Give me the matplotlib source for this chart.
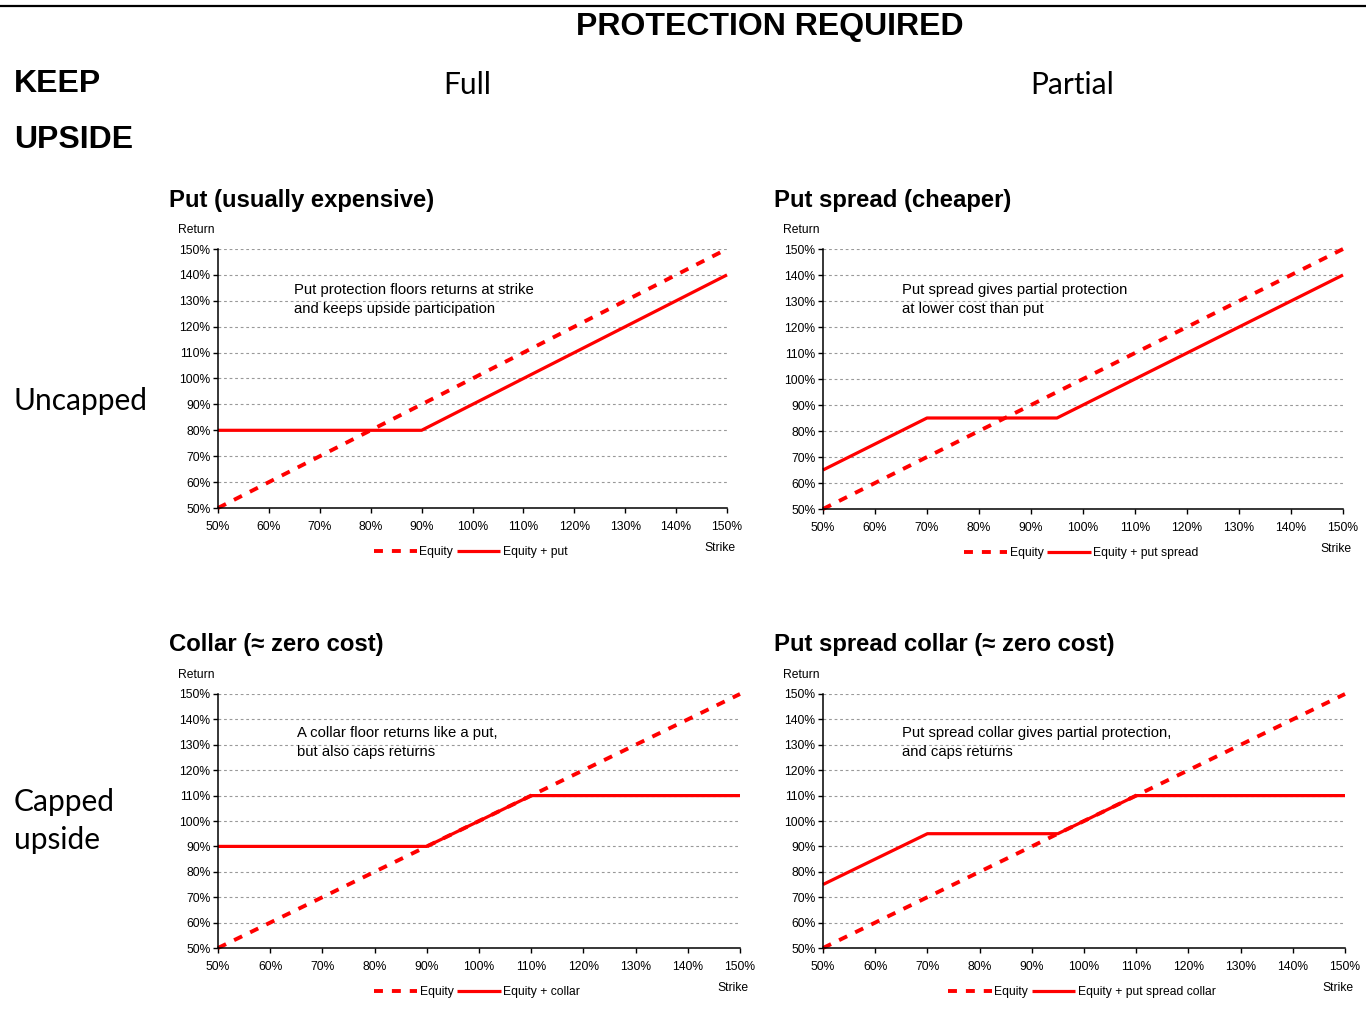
import matplotlib
matplotlib.use("Agg")
import matplotlib.pyplot as plt
from matplotlib.lines import Line2D

W, H = 1366, 1013

# strike levels (%) and the payoff profiles at each kink
equity_x = [50, 150]
equity_y = [50, 150]

put_x = [50, 90, 150]
put_y = [80, 80, 140]

put_spread_x = [50, 70, 95, 150]
put_spread_y = [65, 85, 85, 140]

collar_x = [50, 90, 110, 150]
collar_y = [90, 90, 110, 110]

ps_collar_x = [50, 70, 95, 110, 150]
ps_collar_y = [75, 95, 95, 110, 110]

ticks = [50, 60, 70, 80, 90, 100, 110, 120, 130, 140, 150]
tick_labels = [f"{t}%" for t in ticks]

panels = [
    dict(title="Put (usually expensive)", box=(218, 727, 249, 508),
         x=put_x, y=put_y, label="Equity + put",
         note="Put protection floors returns at strike\nand keeps upside participation",
         note_xy=(294, 283)),
    dict(title="Put spread (cheaper)", box=(823, 1343, 249, 509),
         x=put_spread_x, y=put_spread_y, label="Equity + put spread",
         note="Put spread gives partial protection\nat lower cost than put",
         note_xy=(902, 283)),
    dict(title="Collar (\u2248 zero cost)", box=(218, 740, 694, 948),
         x=collar_x, y=collar_y, label="Equity + collar",
         note="A collar floor returns like a put,\nbut also caps returns",
         note_xy=(297, 726)),
    dict(title="Put spread collar (\u2248 zero cost)", box=(823, 1345, 694, 948),
         x=ps_collar_x, y=ps_collar_y, label="Equity + put spread collar",
         note="Put spread collar gives partial protection,\nand caps returns",
         note_xy=(902, 726)),
]

plt.rcParams["font.family"] = ["Liberation Sans", "DejaVu Sans"]
LABEL_FONT = ["Lato", "DejaVu Sans"]

fig = plt.figure(figsize=(W / 100, H / 100), dpi=100, facecolor="white")


def fx(px):
    return px / W


def fy(py):
    return 1 - py / H


# top rule and headings
fig.add_artist(Line2D([0, 1], [fy(6), fy(6)], color="black", lw=1.6,
                      transform=fig.transFigure))
fig.text(fx(770), fy(27), "PROTECTION REQUIRED", ha="center", va="center",
         fontsize=23, fontweight="bold")
fig.text(fx(14), fy(84), "KEEP", ha="left", va="center", fontsize=23,
         fontweight="bold")
fig.text(fx(14), fy(140), "UPSIDE", ha="left", va="center", fontsize=23,
         fontweight="bold")
fig.text(fx(467), fy(85), "Full", ha="center", va="center", fontsize=21.5,
         family=LABEL_FONT)
fig.text(fx(1072), fy(85), "Partial", ha="center", va="center", fontsize=21.5,
         family=LABEL_FONT)
fig.text(fx(14), fy(401), "Uncapped", ha="left", va="center", fontsize=21.5,
         family=LABEL_FONT)
fig.text(fx(14), fy(821), "Capped\nupside", ha="left", va="center",
         fontsize=21.5, family=LABEL_FONT, linespacing=1.4)

for p in panels:
    left, right, top, bottom = p["box"]
    ax = fig.add_axes([fx(left), fy(bottom), (right - left) / W,
                       (bottom - top) / H])
    ax.set_xlim(50, 150)
    ax.set_ylim(50, 150)
    ax.set_xticks(ticks)
    ax.set_xticklabels(tick_labels)
    ax.set_yticks(ticks)
    ax.set_yticklabels(tick_labels)
    ax.tick_params(axis="both", labelsize=8.7, length=3.5, width=1,
                   direction="out")
    ax.tick_params(axis="x", pad=6)
    ax.tick_params(axis="y", pad=2)
    for side in ("top", "right"):
        ax.spines[side].set_visible(False)
    for side in ("left", "bottom"):
        ax.spines[side].set_linewidth(1.1)
    ax.grid(axis="y", color="#999999", linestyle=(0, (2.5, 2.5)), lw=0.8)
    ax.set_axisbelow(True)

    eq, = ax.plot(equity_x, equity_y, color="#ff0000", lw=2.8,
                  dashes=(2.3, 2.3), clip_on=False, label="Equity")
    prot, = ax.plot(p["x"], p["y"], color="#ff0000", lw=2.3,
                    solid_capstyle="butt", clip_on=False, label=p["label"])

    fig.text(fx(left - 49), fy(top - 49), p["title"], ha="left",
             va="center", fontsize=17.2, fontweight="bold")
    fig.text(fx(left - 40), fy(top - 19), "Return", ha="left", va="center",
             fontsize=8.7)
    fig.text(fx(right + 9), fy(bottom + 40), "Strike", ha="right",
             va="center", fontsize=8.7)
    nx, ny = p["note_xy"]
    fig.text(fx(nx), fy(ny), p["note"], ha="left", va="top", fontsize=10.7,
             linespacing=1.45)

    cx = (left + right) / 2 - 2
    fig.legend(handles=[eq, prot], loc="center",
               bbox_to_anchor=(fx(cx), fy(bottom + 44)), ncol=2,
               frameon=False, fontsize=8.7, handlelength=3.6,
               handletextpad=0.2, columnspacing=0.3, borderaxespad=0)

fig.savefig("out.png", dpi=100, facecolor="white")
